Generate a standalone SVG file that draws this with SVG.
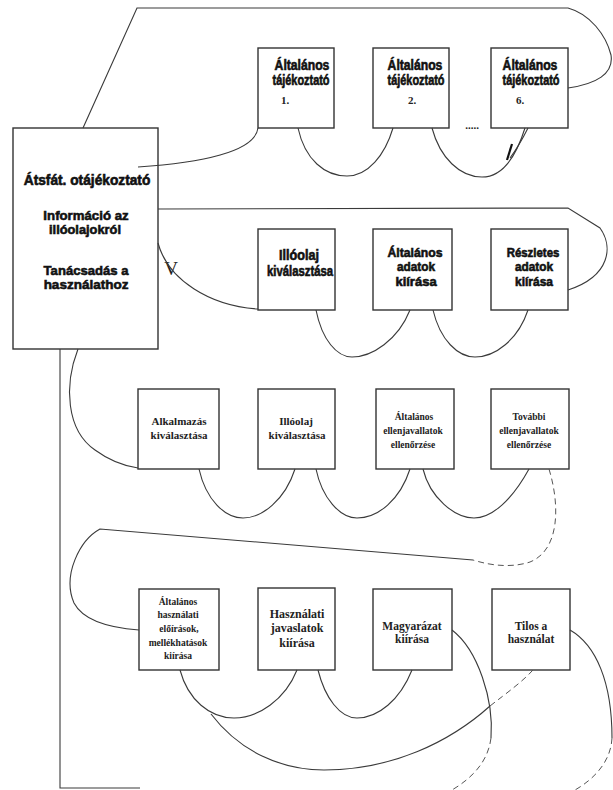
<svg xmlns="http://www.w3.org/2000/svg" width="613" height="790" viewBox="0 0 613 790">
<style>
.box{fill:#fff;stroke:#333;stroke-width:1.4}
.ln{fill:none;stroke:#3a3a3a;stroke-width:1.1}
.ds{fill:none;stroke:#555;stroke-width:1;stroke-dasharray:6 4}
.hv{font-family:"Liberation Sans",Arial,sans-serif;font-weight:bold;fill:#111;stroke:#111;stroke-width:.6;text-anchor:middle}
.sr{font-family:"Liberation Serif","Times New Roman",serif;font-weight:bold;fill:#222;text-anchor:middle}
</style>
<rect width="613" height="790" fill="#fff"/>

<!-- overview box: condensed heavy lettering via horizontal scale -->
<g id="overview">
  <rect class="box" x="13" y="128" width="145" height="221"/>
  <text class="hv" font-size="14" transform="translate(87,185) scale(0.98,1)">Átsfát. otájékoztató</text>
  <text class="hv" font-size="13.5" transform="translate(86,220) scale(0.98,1)">Információ az</text>
  <text class="hv" font-size="13.5" transform="translate(85,234) scale(0.95,1)">illóolajokról</text>
  <text class="hv" font-size="13.5" transform="translate(86,275) scale(0.97,1)">Tanácsadás a</text>
  <text class="hv" font-size="13.5" transform="translate(86,289) scale(1,1)">használathoz</text>
</g>

<!-- row 1 -->
<g id="info1">
  <rect class="box" x="258" y="48" width="76" height="80"/>
  <text class="hv" font-size="14" transform="translate(302,70) scale(0.87,1)">Általános</text>
  <text class="hv" font-size="14" transform="translate(301,85) scale(0.78,1)">tájékoztató</text>
  <text class="sr" x="285" y="104" font-size="11">1.</text>
</g>
<g id="info2">
  <rect class="box" x="373" y="48" width="76" height="80"/>
  <text class="hv" font-size="14" transform="translate(415,70) scale(0.87,1)">Általános</text>
  <text class="hv" font-size="14" transform="translate(416,85) scale(0.78,1)">tájékoztató</text>
  <text class="sr" x="412" y="104" font-size="11">2.</text>
</g>
<g id="info6">
  <rect class="box" x="491" y="48" width="77" height="80"/>
  <text class="hv" font-size="14" transform="translate(530,70) scale(0.87,1)">Általános</text>
  <text class="hv" font-size="14" transform="translate(531,85) scale(0.78,1)">tájékoztató</text>
  <text class="sr" x="520" y="104" font-size="11">6.</text>
</g>
<text class="sr" x="472" y="129" font-size="11">.....</text>

<!-- row 2 -->
<g id="oil-select">
  <rect class="box" x="258" y="229" width="77" height="81"/>
  <text class="hv" font-size="14" transform="translate(299,260) scale(0.9,1)">Illóolaj</text>
  <text class="hv" font-size="14" transform="translate(300,276) scale(0.81,1)">kiválasztása</text>
</g>
<g id="general-data">
  <rect class="box" x="373" y="229" width="79" height="81"/>
  <text class="hv" font-size="13" transform="translate(415,257) scale(0.94,1)">Általános</text>
  <text class="hv" font-size="13" transform="translate(416,271) scale(0.91,1)">adatok</text>
  <text class="hv" font-size="13" transform="translate(416,286) scale(1,1)">kiírása</text>
</g>
<g id="detail-data">
  <rect class="box" x="491" y="229" width="77" height="81"/>
  <text class="hv" font-size="13" transform="translate(533,257) scale(0.88,1)">Részletes</text>
  <text class="hv" font-size="13" transform="translate(534,271) scale(0.91,1)">adatok</text>
  <text class="hv" font-size="13" transform="translate(534,286) scale(0.92,1)">kiírása</text>
</g>
<text x="171" y="275" font-family="Liberation Serif, serif" font-size="19" fill="#222" text-anchor="middle">V</text>

<!-- row 3 -->
<g id="use-select">
  <rect class="box" x="138" y="389" width="81" height="80"/>
  <text class="sr" x="179" y="425" font-size="11">Alkalmazás</text>
  <text class="sr" x="179" y="439" font-size="11">kiválasztása</text>
</g>
<g id="oil-select-2">
  <rect class="box" x="258" y="389" width="77" height="80"/>
  <text class="sr" x="296" y="425" font-size="11">Illóolaj</text>
  <text class="sr" x="297" y="439" font-size="11">kiválasztása</text>
</g>
<g id="general-contra">
  <rect class="box" x="376" y="389" width="78" height="80"/>
  <text class="sr" x="414" y="420" font-size="9.5">Általános</text>
  <text class="sr" x="413" y="434" font-size="9.5">ellenjavallatok</text>
  <text class="sr" x="413" y="448" font-size="9.5">ellenőrzése</text>
</g>
<g id="further-contra">
  <rect class="box" x="491" y="389" width="78" height="80"/>
  <text class="sr" x="529" y="420" font-size="9.5">További</text>
  <text class="sr" x="529" y="434" font-size="9.5">ellenjavallatok</text>
  <text class="sr" x="529" y="448" font-size="9.5">ellenőrzése</text>
</g>

<!-- row 4 -->
<g id="general-rules">
  <rect class="box" x="139" y="589" width="80" height="81"/>
  <text class="sr" x="178" y="605" font-size="9.5">Általános</text>
  <text class="sr" x="178" y="618" font-size="9.5">használati</text>
  <text class="sr" x="179" y="632" font-size="9.5">előírások,</text>
  <text class="sr" x="178" y="646" font-size="9.5">mellékhatások</text>
  <text class="sr" x="178" y="659" font-size="9.5">kiírása</text>
</g>
<g id="use-advice">
  <rect class="box" x="258" y="588" width="77" height="82"/>
  <text class="sr" x="297" y="618" font-size="12">Használati</text>
  <text class="sr" x="297" y="632" font-size="12">javaslatok</text>
  <text class="sr" x="297" y="647" font-size="12">kiírása</text>
</g>
<g id="explain">
  <rect class="box" x="373" y="589" width="79" height="81"/>
  <text class="sr" x="412" y="630" font-size="11.5">Magyarázat</text>
  <text class="sr" x="412" y="643" font-size="11.5">kiírása</text>
</g>
<g id="forbidden">
  <rect class="box" x="492" y="589" width="78" height="81"/>
  <text class="sr" x="531" y="630" font-size="11.5">Tilos a</text>
  <text class="sr" x="531" y="643" font-size="11.5">használat</text>
</g>

<!-- connectors -->
<g id="connectors">
  <!-- row 1 -->
  <path class="ln" d="M83,128 L137,8 L568,8 C590,14 606,35 611,55 C614,74 596,84 568,88"/>
  <path class="ln" d="M138,167 C200,163 255,152 258,128"/>
  <path class="ln" d="M298,128 C305,160 325,176 347,176 C368,176 385,155 393,128"/>
  <path class="ln" d="M432,128 C440,158 460,177 482,177 C500,177 515,160 525,128"/>
  <path class="ln" d="M528,128 C522,140 516,150 510,158"/>
  <path d="M512,144 L507,160" stroke="#111" stroke-width="2.2" fill="none"/>

  <!-- row 2 -->
  <path class="ln" d="M158,209 L568,208 L600,228 C613,246 611,276 568,290"/>
  <path class="ln" d="M158,243 C168,280 210,306 258,309"/>
  <path class="ln" d="M316,310 C322,340 337,357 352,357 C372,357 398,340 410,310"/>
  <path class="ln" d="M433,310 C440,340 458,357 475,357 C495,357 518,340 528,310"/>

  <!-- row 3 -->
  <path class="ln" d="M60,349 L60,788 L140,788"/>
  <path class="ln" d="M78,349 C64,385 66,430 95,450 C110,461 124,466 138,468"/>
  <path class="ln" d="M199,469 C206,500 225,518 243,518 C262,518 285,500 295,469"/>
  <path class="ln" d="M316,469 C322,498 340,518 357,518 C378,518 400,500 410,469"/>
  <path class="ln" d="M423,469 C430,498 455,518 474,518 C492,518 512,500 529,469"/>
  <path class="ds" d="M549,469 C560,505 560,550 530,562 C515,567 495,567 473,560"/>
  <path class="ln" d="M473,560 L100,529 C80,540 62,575 74,603 C84,622 112,628 139,630"/>

  <!-- row 4 -->
  <path class="ln" d="M180,670 C188,700 210,718 234,718 C258,718 285,700 297,670" stroke-width="1.4"/>
  <path class="ln" d="M318,670 C325,698 340,718 357,718 C378,718 400,700 412,670"/>
  <path class="ln" d="M211,714 C240,752 282,770 324,770 C392,770 450,742 490,706"/>
  <path class="ds" d="M490,706 C508,692 522,682 533,670"/>
  <path class="ln" d="M452,630 C478,650 494,700 491,738"/>
  <path class="ds" d="M491,738 C488,762 472,778 452,790"/>
  <path class="ln" d="M570,630 C596,645 612,682 612,738"/>
  <path class="ds" d="M612,738 C611,760 596,778 575,790"/>
</g>
</svg>
